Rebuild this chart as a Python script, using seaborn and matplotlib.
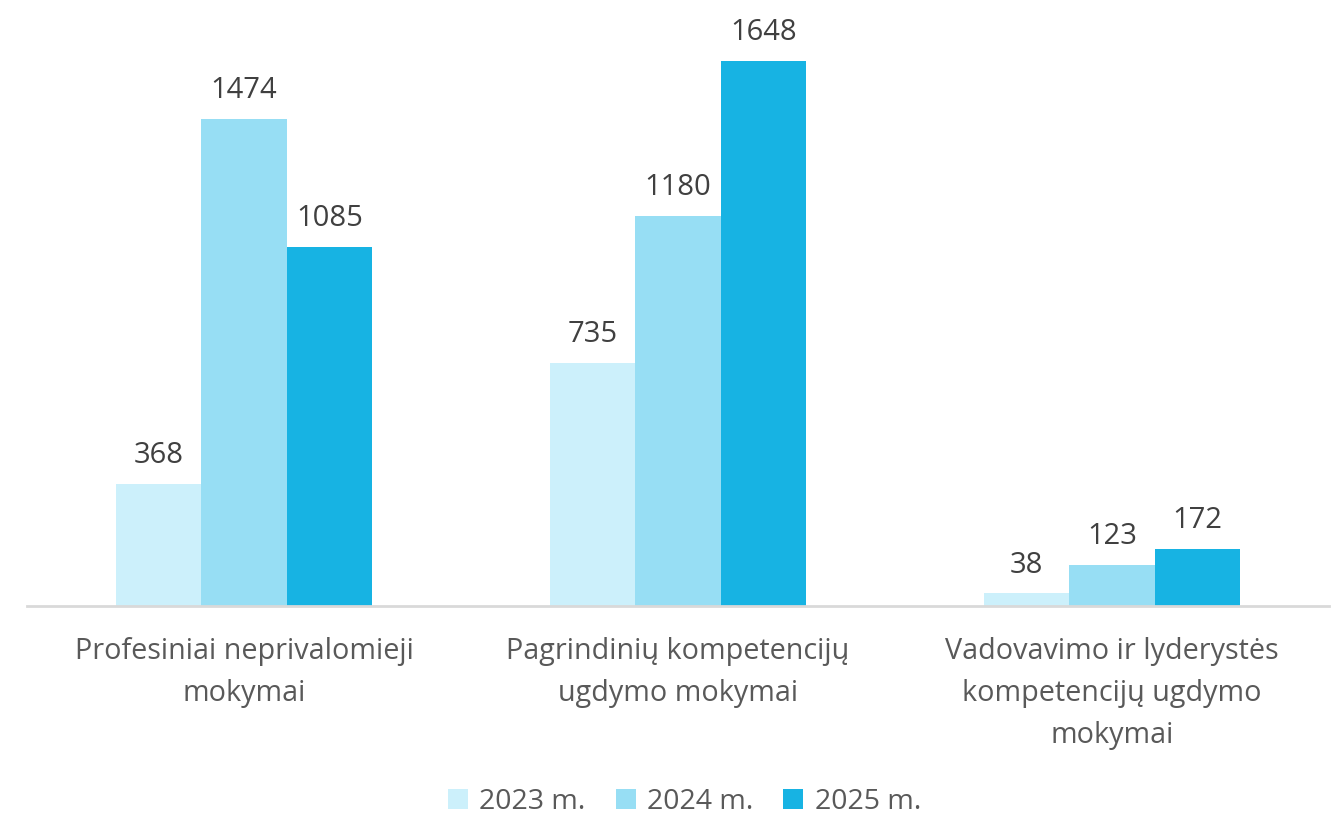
import matplotlib
matplotlib.use("Agg")
import matplotlib.pyplot as plt
import seaborn as sns
import pandas as pd

categories = [
    "Profesiniai neprivalomieji\nmokymai",
    "Pagrindinių kompetencijų\nugdymo mokymai",
    "Vadovavimo ir lyderystės\nkompetencijų ugdymo\nmokymai",
]
years = ["2023 m.", "2024 m.", "2025 m."]
values_2023 = [368, 735, 38]
values_2024 = [1474, 1180, 123]
values_2025 = [1085, 1648, 172]
colors = ["#CCF0FB", "#97DEF4", "#17B3E3"]

rows = []
for year, vals in zip(years, [values_2023, values_2024, values_2025]):
    for cat, v in zip(categories, vals):
        rows.append({"Kategorija": cat, "Metai": year, "Reikšmė": v})
df = pd.DataFrame(rows)

sns.set_style("white")
plt.rcParams["font.family"] = ["Open Sans", "DejaVu Sans"]

fig = plt.figure(figsize=(13.32, 8.14), dpi=100)
ax = fig.add_axes([27 / 1332, (814 - 606) / 814, (1329 - 27) / 1332, 596 / 814])

sns.barplot(data=df, x="Kategorija", y="Reikšmė", hue="Metai",
            palette=colors, width=0.59, gap=0, saturation=1,
            linewidth=0, errorbar=None, ax=ax)

ax.set_ylim(0, 596 / 0.3307)
ax.set_xlim(-0.5, 2.5)
ax.set_xlabel("")
ax.set_ylabel("")
ax.set_yticks([])
for side in ["top", "right", "left"]:
    ax.spines[side].set_visible(False)
ax.spines["bottom"].set_color("#D9D9D9")
ax.spines["bottom"].set_linewidth(2)
ax.tick_params(axis="x", length=0, pad=22, labelsize=20.7, labelcolor="#595959")
for lbl in ax.get_xticklabels():
    lbl.set_linespacing(1.6)

for cont in ax.containers:
    ax.bar_label(cont, labels=[f"{int(v)}" for v in cont.datavalues],
                 padding=10, fontsize=21, color="#404040")

handles, labels = ax.get_legend_handles_labels()
ax.legend_.remove()
fig.legend(handles, labels, loc="center", bbox_to_anchor=(684.5 / 1332, 1 - 802 / 814),
           ncol=3, frameon=False, fontsize=20.5, labelcolor="#595959",
           handlelength=0.7, handleheight=0.7, handletextpad=0.4,
           columnspacing=1.05)

fig.savefig("out.png", dpi=100)
